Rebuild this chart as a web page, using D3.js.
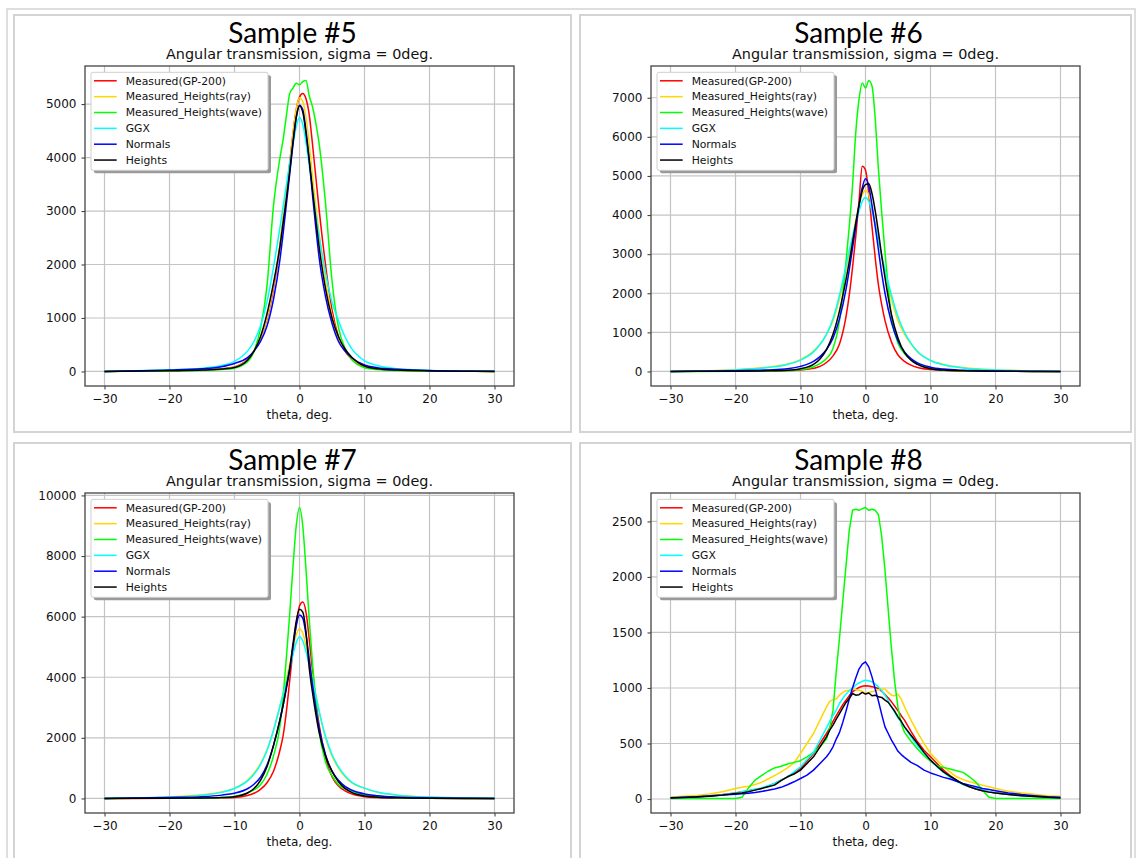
<!DOCTYPE html>
<html>
<head>
<meta charset="utf-8">
<script src="https://cdn.jsdelivr.net/npm/d3@7"></script>
<style>
body { margin:0; background:#fff; }
svg text { font-family:"DejaVu Sans", sans-serif; }
</style>
</head>
<body>
<svg id="fig" width="1137" height="858"></svg>
<script>
///////////////////////////////
// angles (deg) where the curves were read off
var theta = [-30,-20,-15,-12,-10,-8,-7,-6,-5,-4,-3,-2.5,-2,-1.5,-1,-0.5,0,0.5,1,1.5,2,2.5,3,4,5,6,7,8,10,12,15,20,30];
var theta8 = [-30,-28,-26,-24,-22,-20,-19,-18,-17,-16,-15,-14,-13,-12,-11,-10,-9,-8,-7,-6,-5.5,-5,-4.5,-4,-3.5,-3,-2.5,-2,-1.5,-1,-0.5,0,0.5,1,1.5,2,2.5,3,3.5,4,4.5,5,5.5,6,7,8,9,10,11,12,13,14,15,16,17,18,19,20,22,24,26,28,30];

var xTicks = [-30,-20,-10,0,10,20,30];

// Sample #5
var s5_gp200   = [0,15,30,50,85,230,380,620,980,1550,2350,2850,3350,3900,4450,4900,5130,5200,5100,4800,4250,3650,3050,2000,1150,650,380,230,90,45,25,12,0];
var s5_ray     = [0,12,25,45,80,220,370,620,1000,1600,2400,2900,3400,3900,4450,4900,5120,5050,4750,4250,3650,3100,2600,1700,1050,620,380,240,95,45,22,10,0];
var s5_wave    = [0,10,20,35,60,180,380,800,1600,3100,4000,4350,4800,5200,5300,5390,5360,5420,5440,5150,4950,4650,4280,3150,1700,820,440,230,70,35,18,8,0];
var s5_ggx     = [0,30,60,110,190,380,560,850,1300,1950,2700,3100,3500,3900,4250,4580,4750,4620,4280,3850,3400,2950,2550,1850,1300,950,650,430,200,110,50,20,2];
var s5_normals = [0,25,50,90,150,260,380,560,850,1350,2100,2600,3150,3700,4250,4750,4980,4900,4500,3950,3300,2700,2150,1400,900,560,380,260,120,70,40,20,2];
var s5_heights = [0,12,25,45,75,210,380,650,1080,1650,2350,2800,3250,3750,4300,4750,4970,4850,4450,3950,3400,2850,2350,1550,1000,650,420,270,100,50,25,10,0];
var yTicks5 = [0,1000,2000,3000,4000,5000];

// Sample #6
var s6_gp200   = [0,8,15,25,40,80,130,230,400,700,1400,1950,2650,3450,4350,5250,5150,4550,3700,2900,2200,1700,1300,750,420,260,160,100,50,30,15,6,0];
var s6_ray     = [0,45,110,190,300,520,700,950,1300,1850,2600,3000,3400,3850,4250,4520,4630,4520,4200,3800,3350,2950,2550,1850,1300,950,700,500,280,180,100,40,5];
var s6_wave    = [0,5,10,20,50,120,200,330,590,1300,2800,3700,4750,6100,6950,7380,7250,7440,7300,6450,5150,4050,3050,1400,720,460,300,200,80,40,20,8,0];
var s6_ggx     = [0,40,100,180,290,500,690,950,1350,1950,2700,3100,3450,3800,4100,4350,4450,4350,4100,3750,3350,2950,2600,1950,1400,1000,720,510,280,170,90,35,5];
var s6_normals = [0,20,40,70,130,260,380,560,850,1350,2100,2600,3150,3700,4250,4700,4930,4750,4250,3700,3100,2500,2000,1250,780,500,330,220,110,60,30,12,0];
var s6_heights = [0,8,15,30,70,180,320,560,950,1550,2350,2800,3300,3800,4250,4620,4780,4800,4550,4100,3550,2950,2400,1450,850,480,290,180,70,35,15,6,0];
var yTicks6 = [0,1000,2000,3000,4000,5000,6000,7000];

// Sample #7
var s7_gp200   = [0,5,10,20,35,100,170,300,520,900,1600,2100,2900,3900,4900,5750,6350,6480,6150,5250,4200,3250,2450,1350,720,410,250,150,60,30,15,5,0];
var s7_ray     = [0,50,120,210,340,600,830,1150,1600,2250,3050,3500,3950,4450,4950,5400,5600,5450,5050,4550,4000,3450,2900,2000,1400,1000,720,520,340,200,110,45,5];
var s7_wave    = [0,8,15,30,70,180,280,450,800,1400,2400,3400,4700,6100,7650,9000,9600,9000,7550,5900,4450,3250,2250,1200,750,450,320,230,120,60,25,10,0];
var s7_ggx     = [0,45,110,200,330,580,800,1120,1580,2250,3050,3450,3850,4300,4750,5150,5340,5200,4850,4400,3900,3400,2900,2050,1450,1040,750,540,340,210,110,45,5];
var s7_normals = [0,30,60,110,175,320,470,700,1100,1750,2600,3100,3650,4250,5000,5700,6050,5950,5400,4600,3750,3000,2350,1450,900,600,400,280,150,90,45,18,2];
var s7_heights = [0,8,15,30,60,180,330,600,1050,1750,2600,3100,3700,4300,5100,5850,6240,6150,5500,4300,3500,2800,2200,1400,900,550,330,200,80,40,20,8,0];
var yTicks7 = [0,2000,4000,6000,8000,10000];

// Sample #8 (noisier, read on a finer grid)
var s8_gp200   = [12,17,22,30,40, 55,65,75,85,95, 115,140,170,200,235, 275,340,410,500,590, 640,700,750,800,850, 890,930,965,985,1005, 1015,1020,1018,1012,1005, 995,970,940,910,875, 835,795,750,710,610, 515,440,380,320,260, 210,170,135,110,90, 75,65,55,42,32, 25,18,12];
var s8_ray     = [18,25,32,45,65, 95,105,115,130,150, 180,210,245,280,325, 410,500,590,710,830, 880,895,900,935,960, 975,980,990,985,980, 970,950,960,965,975, 985,990,990,960,935, 930,945,900,830,710, 600,500,410,350,290, 245,200,175,155,140, 125,110,95,70,55, 42,30,25];
var s8_wave    = [5,5,5,5,5, 5,15,100,170,210, 250,280,295,315,330, 345,380,420,470,540, 640,800,1150,1450,1780, 2100,2420,2600,2610,2600, 2615,2625,2600,2610,2600, 2560,2360,2060,1700,1350, 1050,820,680,600,520, 450,390,340,300,285, 270,255,240,200,150, 80,15,5,5,5, 5,5,5];
var s8_ggx     = [10,15,20,28,38, 55,65,75,88,100, 120,140,170,200,245, 290,355,420,530,640, 700,750,800,860,905, 945,975,1000,1025,1045, 1060,1070,1065,1055,1035, 1010,975,935,885,830, 780,730,690,650,560, 480,410,350,290,240, 195,160,130,110,95, 80,65,55,40,30, 22,16,12];
var s8_normals = [12,16,20,27,35, 42,48,52,58,68, 78,90,105,128,155, 185,215,260,320,380, 420,470,540,600,690, 790,900,1000,1090,1170, 1215,1235,1190,1100,990, 880,760,650,590,530, 480,430,400,375,330, 300,260,235,215,195, 180,160,140,125,110, 95,85,75,55,40, 30,20,15];
var s8_heights = [10,14,18,24,35, 50,55,65,80,95, 110,125,165,200,225, 260,320,380,470,560, 620,665,720,770,820, 870,905,950,935,940, 960,945,955,930,935, 920,915,890,870,830, 790,740,700,650,575, 500,420,350,295,245, 205,170,135,110,90, 75,62,55,40,30, 22,15,10];
var yTicks8 = [0,500,1000,1500,2000,2500];

var seriesNames  = ["Measured(GP-200)","Measured_Heights(ray)","Measured_Heights(wave)","GGX","Normals","Heights"];
var seriesColors = ["#ff0000","#ffd700","#00ff00","#00ffff","#0000ff","#000000"];

// plot boxes
var plotW = 429, plotH = 320;
var panels = [
  {title:"Sample #5", left:85,  top:66,  th:theta,  data:[s5_gp200,s5_ray,s5_wave,s5_ggx,s5_normals,s5_heights], yt:yTicks5, curve:d3.curveMonotoneX},
  {title:"Sample #6", left:651, top:66,  th:theta,  data:[s6_gp200,s6_ray,s6_wave,s6_ggx,s6_normals,s6_heights], yt:yTicks6, curve:d3.curveMonotoneX},
  {title:"Sample #7", left:85,  top:493, th:theta,  data:[s7_gp200,s7_ray,s7_wave,s7_ggx,s7_normals,s7_heights], yt:yTicks7, curve:d3.curveMonotoneX},
  {title:"Sample #8", left:651, top:493, th:theta8, data:[s8_gp200,s8_ray,s8_wave,s8_ggx,s8_normals,s8_heights], yt:yTicks8, curve:d3.curveLinear}
];

var svg = d3.select("#fig");

// outer frame + panel frames
svg.append("rect").attr("x",7).attr("y",9).attr("width",1128).attr("height",870)
   .attr("fill","none").attr("stroke","#d4d4d4").attr("stroke-width",1.5);
[[14,15],[580,15],[14,443],[580,443]].forEach(function(b){
  svg.append("rect").attr("x",b[0]).attr("y",b[1]).attr("width",b[0]<100?557:551).attr("height",417)
     .attr("fill","#fff").attr("stroke","#d4d4d4").attr("stroke-width",2);
});

panels.forEach(function(p,pi){ drawPanel(p,pi); });

function drawPanel(p, pi) {
  var g = svg.append("g");
  var x = d3.scaleLinear().domain([-33,33]).range([p.left, p.left+plotW]);
  var all = d3.merge(p.data);
  var lo = d3.min(all), hi = d3.max(all), pad = (hi-lo)*0.05;
  var y = d3.scaleLinear().domain([lo-pad, hi+pad]).range([p.top+plotH, p.top]);

  // grid
  g.selectAll(".gx").data(xTicks).enter().append("line")
    .attr("x1",function(d){return x(d);}).attr("x2",function(d){return x(d);})
    .attr("y1",p.top).attr("y2",p.top+plotH)
    .style("stroke","#c4c4c4").style("stroke-width",1.2);
  g.selectAll(".gy").data(p.yt).enter().append("line")
    .attr("y1",function(d){return y(d);}).attr("y2",function(d){return y(d);})
    .attr("x1",p.left).attr("x2",p.left+plotW)
    .style("stroke","#c4c4c4").style("stroke-width",1.2);

  // clip to axes box
  var cid = "clip"+pi;
  g.append("clipPath").attr("id",cid).append("rect")
    .attr("x",p.left).attr("y",p.top).attr("width",plotW).attr("height",plotH);

  var line = d3.line()
    .x(function(d){return x(d[0]);})
    .y(function(d){return y(d[1]);})
    .curve(p.curve);

  p.data.forEach(function(vals,i){
    var pts = p.th.map(function(t,k){ return [t, vals[k]]; });
    g.append("path").attr("clip-path","url(#"+cid+")")
      .attr("d", line(pts))
      .attr("fill","none")
      .attr("stroke", seriesColors[i])
      .attr("stroke-width",1.5)
      .attr("stroke-linejoin","round");
  });

  // frame
  g.append("rect").attr("x",p.left).attr("y",p.top).attr("width",plotW).attr("height",plotH)
    .attr("fill","none").attr("stroke","#444").attr("stroke-width",1.3);

  // axes
  var xAxis = d3.axisBottom(x).tickValues(xTicks).tickSize(3.5).tickPadding(5).tickFormat(d3.format("d"));
  var yAxis = d3.axisLeft(y).tickValues(p.yt).tickSize(3.5).tickPadding(5).tickFormat(d3.format("d"));
  var ax = g.append("g").attr("transform","translate(0,"+(p.top+plotH)+")").call(xAxis);
  var ay = g.append("g").attr("transform","translate("+p.left+",0)").call(yAxis);
  [ax,ay].forEach(function(a){
    a.select(".domain").remove();
    a.selectAll("line").attr("stroke","#444").attr("stroke-width",1.1);
    a.selectAll("text").attr("fill","#111").style("font-size","12px").style("font-family","DejaVu Sans");
  });

  // titles
  var cx = p.left + plotW/2;
  g.append("text").attr("x",cx-7).attr("y",p.top-23.5).attr("text-anchor","middle")
    .style("font-family","Lato").style("font-size","28px").attr("fill","#000").text(p.title);
  g.append("text").attr("x",cx).attr("y",p.top-7).attr("text-anchor","middle")
    .style("font-size","14.4px").attr("fill","#111").text("Angular transmission, sigma = 0deg.");
  g.append("text").attr("x",cx).attr("y",p.top+plotH+33).attr("text-anchor","middle")
    .style("font-size","12px").attr("fill","#111").text("theta, deg.");

  // legend with shadow
  var lx = p.left+6, ly = p.top+6.3, lw = 177, lh = 98;
  g.append("rect").attr("x",lx+3).attr("y",ly+3).attr("width",lw).attr("height",lh)
    .attr("rx",2).attr("fill","#9a9a9a");
  g.append("rect").attr("x",lx).attr("y",ly).attr("width",lw).attr("height",lh)
    .attr("rx",2).attr("fill","#fff").attr("stroke","#cfcfcf").attr("stroke-width",1);
  seriesNames.forEach(function(n,i){
    var ry = ly + 8.5 + i*15.85;
    g.append("line").attr("x1",lx+3).attr("x2",lx+25.7).attr("y1",ry).attr("y2",ry)
      .attr("stroke",seriesColors[i]).attr("stroke-width",1.5);
    g.append("text").attr("x",lx+34.7).attr("y",ry).attr("dy","0.35em")
      .style("font-size","10.8px").attr("fill","#111").text(n);
  });
}
</script>
</body>
</html>
